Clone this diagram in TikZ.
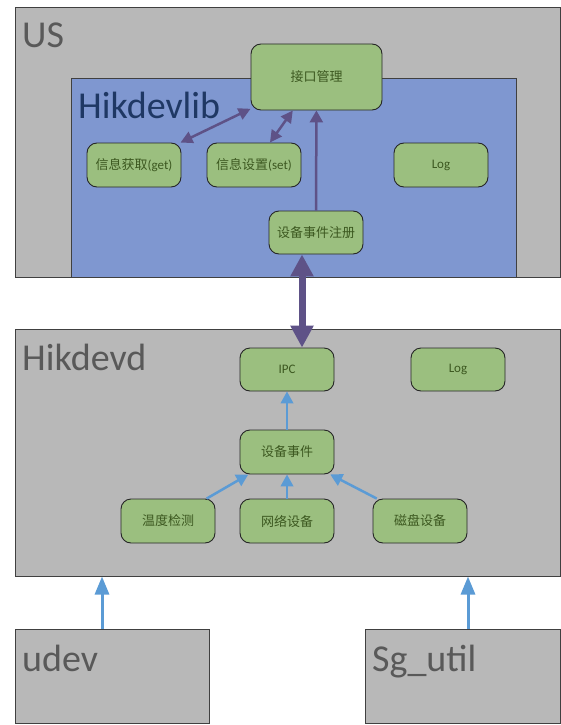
\documentclass[tikz,border=0pt]{standalone}
\usepackage{fontspec}
\setmainfont{Carlito}
\newfontfamily\cjk{Noto Sans CJK SC}
\usetikzlibrary{arrows.meta,calc}
\definecolor{boxgray}{RGB}{184,184,184}
\definecolor{edgegray}{RGB}{64,64,64}
\definecolor{libblue}{RGB}{127,151,208}
\definecolor{libtext}{RGB}{31,56,100}
\definecolor{leaf}{RGB}{155,191,127}
\definecolor{leaftext}{RGB}{60,88,32}
\definecolor{bigtext}{RGB}{89,89,89}
\definecolor{purp}{RGB}{94,82,135}
\definecolor{arrblue}{RGB}{91,155,213}
\tikzset{
  outer/.style={draw=edgegray,line width=1pt,fill=boxgray},
  libbox/.style={draw=edgegray,line width=1pt,fill=libblue},
  gbox/.style={draw=black!85,line width=0.9pt,fill=leaf,rounded corners=10pt,
     inner sep=0pt,minimum width=94pt,minimum height=44pt,
     text=leaftext,font=\fontsize{13}{15}\selectfont},
  biglabel/.style={anchor=base west,text=bigtext,inner sep=0pt,font=\fontsize{38}{40}\selectfont},
  parr/.style={draw=purp,line width=2.5pt,{Triangle[length=12pt,width=12pt]}-{Triangle[length=12pt,width=12pt]}},
  parrone/.style={draw=purp,line width=2.5pt,-{Triangle[length=12pt,width=13pt]}},
  bigarr/.style={draw=purp,line width=7pt,{Triangle[length=22pt,width=22pt]}-{Triangle[length=22pt,width=22pt]}},
  barr/.style={draw=arrblue,line width=2.5pt,-{Triangle[length=12pt,width=12.5pt]}},
  barrbig/.style={draw=arrblue,line width=3pt,-{Triangle[length=18pt,width=14pt]}}
}
\begin{document}
\begin{tikzpicture}[x=1pt,y=-1pt]
\useasboundingbox (0,0) rectangle (561,725);
% outer boxes
\node[outer,inner sep=0pt,minimum width=545pt,minimum height=269pt] (us) at (287.5,142.5) {};
\node[libbox,inner sep=0pt,minimum width=444.5pt,minimum height=199pt] (lib) at (293.75,177.5) {};
\node[outer,inner sep=0pt,minimum width=545pt,minimum height=247pt] (hd) at (287.5,452.5) {};
\node[outer,inner sep=0pt,minimum width=194pt,minimum height=94pt] (udev) at (112,676) {};
\node[outer,inner sep=0pt,minimum width=195pt,minimum height=94pt] (sg) at (462.5,676) {};
% big labels
\node[biglabel] (uslab) at (22,48) {US};
\node[biglabel,text=libtext] (liblab) at (78,118) {Hikdevlib};
\node[biglabel] (hdlab) at (22,370) {Hikdevd};
\node[biglabel] (udevlab) at (22,671) {udev};
\node[biglabel] (sglab) at (372,671) {Sg\_util};
% US nodes
\node[gbox,minimum width=131pt,minimum height=66pt] (jk) at (316.5,77) {\cjk 接口管理};
\node[gbox] (get) at (134,165) {{\cjk 信息获取}(get)};
\node[gbox] (set) at (254,165) {{\cjk 信息设置}(set)};
\node[gbox] (log1) at (441,165) {Log};
\node[gbox,minimum height=43pt] (reg) at (316,232.5) {\cjk 设备事件注册};
% Hikdevd nodes
\node[gbox,minimum height=43pt] (ipc) at (287,369.5) {IPC};
\node[gbox,minimum height=43pt] (log2) at (458,369.5) {Log};
\node[gbox] (ev) at (287,452) {\cjk 设备事件};
\node[gbox] (temp) at (168,521) {\cjk 温度检测};
\node[gbox] (net) at (287,521) {\cjk 网络设备};
\node[gbox] (disk) at (420,521) {\cjk 磁盘设备};
% purple connectors
\draw[parr] (get) -- (jk);
\draw[parr] (set) -- (jk);
\draw[parrone] (reg) -- (jk);
\draw[bigarr] ([xshift=-14pt]reg.south) -- ([xshift=15pt]ipc.north);
% blue connectors
\draw[barr] (ev) -- (ipc);
\draw[barr] (net) -- (ev);
\draw[barr] (temp) -- (ev);
\draw[barr] (disk) -- (ev);
\draw[barrbig] ([xshift=-10pt]udev.north) -- ([xshift=-10pt]udev.north |- hd.south);
\draw[barrbig] ([xshift=5.5pt]sg.north) -- ([xshift=5.5pt]sg.north |- hd.south);
\end{tikzpicture}
\end{document}
